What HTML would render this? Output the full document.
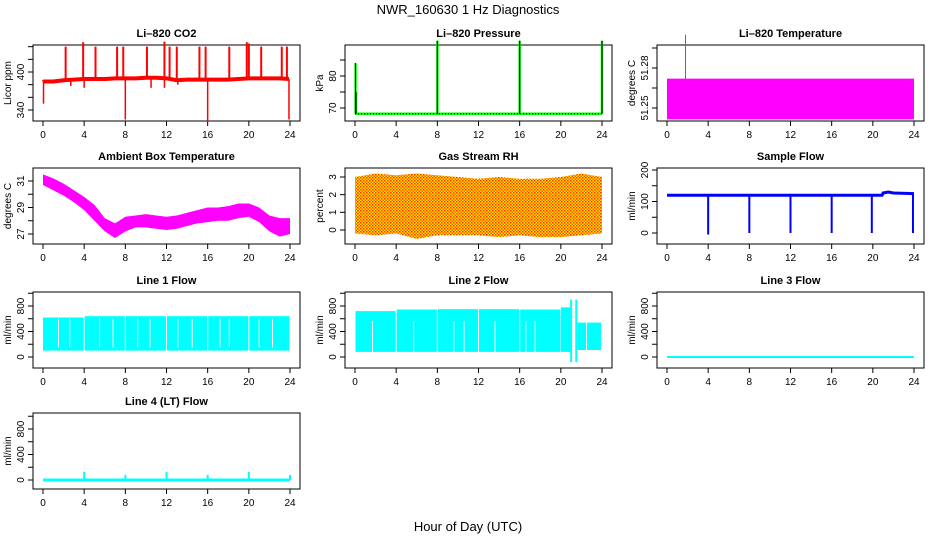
<!DOCTYPE html>
<html><head><meta charset="utf-8"><style>
body{margin:0;background:#fff;}
svg{display:block;font-family:"Liberation Sans",sans-serif;}
</style></head><body>
<svg id="c" width="936" height="540" viewBox="0 0 936 540">
<defs>
<pattern id="rhpat" width="3" height="3" patternUnits="userSpaceOnUse"><rect width="3" height="3" fill="#ffee00"/><rect x="0" y="0" width="1.5" height="1.5" fill="#ff2a00"/><rect x="1.5" y="1.5" width="1.5" height="1.5" fill="#ff5500"/></pattern>
</defs>
<text x="468" y="14" text-anchor="middle" font-size="13">NWR_160630  1 Hz Diagnostics</text>
<text x="468" y="531" text-anchor="middle" font-size="13">Hour of Day (UTC)</text>
</svg>
<script>
const xTicks=[0,4,8,12,16,20,24];
// CO2
const co2Hours=[0,0.1,1,2,3,4,5,6,7,8,9,10,11,12,13,14,15,16,17,18,19,20,21,22,23,23.9];
const co2Base=[384,385,385,387,388,389,389,389,390,390,390,391,391,390,387,388,388,388,388,388,389,390,390,390,390,389];
const co2SpikeH=[2.2,3.9,5.1,7.2,7.8,10.1,11.8,12.3,13.0,15.2,15.8,18.1,19.8,20.0,21.2,23.2,23.7];
const co2SpikeV=[440,447,440,440,440,440,448,440,440,440,440,440,447,445,440,440,440];
const co2DipH=[0.05,8.0,16.0,23.9,4.0,2.7,10.5,11.8,13.1];
const co2DipV=[350,325,322,325,375,378,375,375,380];
// Pressure
const prHours=[0,24];
const prBase=[68.2,68.2];
const prSpikeH=[0.05,0.1,8.0,16.0,24.0];
const prSpikeV=[84,75,91,91,91];
// Li-820 temperature
const ltHours=[0,24];
const ltVal=[51.272,51.272];
const ltSpikeH=[1.8];const ltSpikeV=[51.305];
// Ambient box temp band
const atHours=[0,1,2,3,4,5,6,7,8,9,10,11,12,13,14,15,16,17,18,19,20,21,22,23,24];
const atHi=[31.5,31.2,30.8,30.3,29.8,29.2,28.2,27.8,28.3,28.4,28.5,28.4,28.3,28.4,28.6,28.8,29.0,29.0,29.1,29.3,29.3,29.0,28.4,28.2,28.2];
const atLo=[30.7,30.3,29.9,29.4,28.8,28.0,27.2,26.7,27.2,27.5,27.5,27.4,27.3,27.4,27.6,27.8,27.9,28.0,28.0,28.2,28.3,27.9,27.2,26.8,27.0];
// RH band
const rhHours=[0,2,4,6,8,10,12,14,16,18,20,22,24];
const rhHi=[3.0,3.2,3.1,3.2,3.1,3.0,2.9,3.0,2.9,2.9,3.0,3.2,3.0];
const rhLo=[-0.2,-0.3,-0.2,-0.5,-0.3,-0.3,-0.3,-0.4,-0.3,-0.4,-0.4,-0.3,-0.2];
// Sample flow
const sfHours=[0,20.9,21,21.5,22,24];
const sfVal=[120,120,127,130,127,125];
const sfDipH=[4.0,8.0,12.0,16.0,19.9,23.9];
const sfDipV=[-5,0,0,0,0,0];
// Line 1 flow segments
const l1Start=[0,4.05,8.05,12.05,16.05,20.05];
const l1End=[3.95,7.95,11.95,15.95,19.95,23.95];
const l1Lo=[100,100,100,100,100,100];
const l1Hi=[620,640,640,640,640,640];
const l1GapH=[1.5,2.6,5.5,6.8,9.2,10.4,13.1,14.5,17.2,18.1,21.0,22.3];
// Line 2 flow segments
const l2Start=[0.05,4.05,8.05,12.05,16.05,20.0,21.6];
const l2End=[3.95,7.95,11.95,15.95,19.95,21.0,23.9];
const l2Lo=[80,80,80,80,80,80,110];
const l2Hi=[720,745,750,750,745,780,540];
const l2GapH=[1.7,5.7,9.6,10.6,13.6,16.6,17.5,22.5];
const l2SpikeH=[21.0,21.5];const l2SpikeHi=[900,900];const l2SpikeLo=[-80,-80];
// Line 3 flow
const l3Hours=[0,24];const l3Val=[0,0];
// Line 4 flow
const l4Hours=[0,24];const l4Val=[0,0];
const l4SpikeH=[4,8,12,16,20,24];const l4SpikeV=[130,80,130,80,130,80];

const svg=document.getElementById('c');
const NS='http://www.w3.org/2000/svg';
function mk(tag,attrs,parent){const e=document.createElementNS(NS,tag);for(const k in attrs)e.setAttribute(k,attrs[k]);(parent||svg).appendChild(e);return e;}
const colX0=[43,355,667];
const rowTop=[45,168,292,413];
const H=76;
function panel(col,row,title,ylab,vA,pA,vB,pB,yTicks,yLabels,name){
  const g=mk('g',{});
  
  
  const x0=colX0[col],top=rowTop[row];
  const X=h=>x0+h*247/24;
  const Y=v=>top+pA+(v-vA)*(pB-pA)/(vB-vA);
  const t=mk('text',{x:x0+123.5,y:top-8,'text-anchor':'middle','font-size':11,'font-weight':'bold'},g);
  t.textContent=title;
  
  
  const box=mk('rect',{x:x0-10,y:top,width:267,height:H,fill:'none',stroke:'#000','stroke-width':1},g);
  
  
  const xa=mk('g',{},g);
  
  
  xTicks.forEach(h=>{mk('line',{x1:X(h),x2:X(h),y1:top+H,y2:top+H+5,stroke:'#000'},xa);
    const l=mk('text',{x:X(h),y:top+H+17,'text-anchor':'middle','font-size':10},xa);l.textContent=h;});
  const ya=mk('g',{},g);
  
  
  yTicks.forEach((v,i)=>{const y=Y(v);if(y<top-1||y>top+H+1)return;mk('line',{x1:x0-10,x2:x0-15,y1:y,y2:y,stroke:'#000'},ya);
    if(yLabels[i]!==''){const l=mk('text',{x:x0-19,y:y,'text-anchor':'middle','font-size':10,transform:`rotate(-90 ${x0-19} ${y})`},ya);l.textContent=yLabels[i];}});
  const yl=mk('text',{x:x0-32,y:top+H/2,'text-anchor':'middle','font-size':10,transform:`rotate(-90 ${x0-32} ${top+H/2})`},g);
  yl.textContent=ylab;
  
  
  const s=mk('g',{},g);
  
  
  return {X,Y,s};
}
function poly(p,hs,vs,color,w,extra){return mk('polyline',Object.assign({points:hs.map((h,i)=>p.X(h)+','+p.Y(vs[i])).join(' '),fill:'none',stroke:color,'stroke-width':w},extra||{}),p.s);}
function spikes(p,hs,from,vs,color,w){hs.forEach((h,i)=>{const f=Array.isArray(from)?from[i]:from;mk('line',{x1:p.X(h),x2:p.X(h),y1:p.Y(f),y2:p.Y(vs[i]),stroke:color,'stroke-width':w},p.s);});}
function band(p,hs,lo,hi,fill){const pts=hs.map((h,i)=>p.X(h)+','+p.Y(hi[i])).concat(hs.slice().reverse().map((h,j)=>{const i=hs.length-1-j;return p.X(h)+','+p.Y(lo[i]);}));return mk('polygon',{points:pts.join(' '),fill:fill},p.s);}
function segs(p,st,en,lo,hi,fill){st.forEach((a,i)=>{mk('rect',{x:p.X(a),y:p.Y(hi[i]),width:p.X(en[i])-p.X(a),height:p.Y(lo[i])-p.Y(hi[i]),fill:fill},p.s);});}
function gaps(p,hs,lo,hi){hs.forEach(h=>{mk('line',{x1:p.X(h),x2:p.X(h),y1:p.Y(hi),y2:p.Y(lo),stroke:'#fff','stroke-width':1},p.s);});}
function base(hs,vs,h){for(let i=0;i<hs.length-1;i++){if(h<=hs[i+1])return vs[i]+(vs[i+1]-vs[i])*(h-hs[i])/(hs[i+1]-hs[i]);}return vs[vs.length-1];}

// Row 1
let p=panel(0,0,'Li\u2013820 CO2','Licor ppm',340,65,400,27,[340,360,380,400,420,440],['340','','','400','',''],'co2');
poly(p,co2Hours,co2Base,'#ff0000',4);
spikes(p,co2SpikeH,co2SpikeH.map(h=>base(co2Hours,co2Base,h)),co2SpikeV,'#ff0000',2);
spikes(p,co2DipH,co2DipH.map(h=>base(co2Hours,co2Base,h)),co2DipV,'#ff0000',1.5);

p=panel(1,0,'Li\u2013820 Pressure','kPa',70,63,80,31,[70,75,80,85],['70','','80',''],'pressure');
poly(p,prHours,prBase,'#00ff00',2.5);
poly(p,prHours,prBase,'#000',1,{'stroke-dasharray':'1,2'});
spikes(p,prSpikeH,prSpikeH.map(()=>prBase[0]),prSpikeV,'#00ff00',2.5);
spikes(p,prSpikeH,prSpikeH.map(()=>prBase[0]),prSpikeV,'#000',1);

p=panel(2,0,'Li\u2013820 Temperature','degrees C',51.25,63,51.28,23,[51.25,51.265,51.28,51.295],['51.25','','51.28',''],'li820-temp');
band(p,ltHours,[51.2415,51.2415],ltVal,'#ff00ff');
spikes(p,ltSpikeH,[51.27],ltSpikeV,'#ff00ff',1);

// Row 2
p=panel(0,1,'Ambient Box Temperature','degrees C',31,13,27,66,[27,28,29,30,31],['27','','29','','31'],'ambient-temp');
band(p,atHours,atLo,atHi,'#ff00ff');

p=panel(1,1,'Gas Stream RH','percent',0,62,3,9,[0,1,2,3],['0','1','2','3'],'gas-rh');
band(p,rhHours,rhLo,rhHi,'url(#rhpat)');

p=panel(2,1,'Sample Flow','ml/min',0,65,200,2,[0,50,100,150,200],['0','','100','','200'],'sample-flow');
poly(p,sfHours,sfVal,'#0000ff',3);
spikes(p,sfDipH,sfDipH.map(h=>base(sfHours,sfVal,h)),sfDipV,'#0000ff',2);

// Row 3
const fA=0,fPA=65,fB=800,fPB=14,fT=[-200,0,200,400,600,800,1000],fL=['','0','','400','','800',''];
p=panel(0,2,'Line 1 Flow','ml/min',fA,fPA,fB,fPB,fT,fL,'line1-flow');
segs(p,l1Start,l1End,l1Lo,l1Hi,'#00ffff');
gaps(p,l1GapH,150,600);
p=panel(1,2,'Line 2 Flow','ml/min',fA,fPA,fB,fPB,fT,fL,'line2-flow');
segs(p,l2Start,l2End,l2Lo,l2Hi,'#00ffff');
gaps(p,l2GapH,80,560);
spikes(p,l2SpikeH,l2SpikeLo,l2SpikeHi,'#00ffff',2);
p=panel(2,2,'Line 3 Flow','ml/min',fA,fPA,fB,fPB,fT,fL,'line3-flow');
poly(p,l3Hours,l3Val,'#00ffff',2);

// Row 4
p=panel(0,3,'Line 4 (LT) Flow','ml/min',fA,67,fB,16,fT,fL,'line4-flow');
poly(p,l4Hours,l4Val,'#00ffff',3);
spikes(p,l4SpikeH,0,l4SpikeV,'#00ffff',2);
</script>
</body></html>
